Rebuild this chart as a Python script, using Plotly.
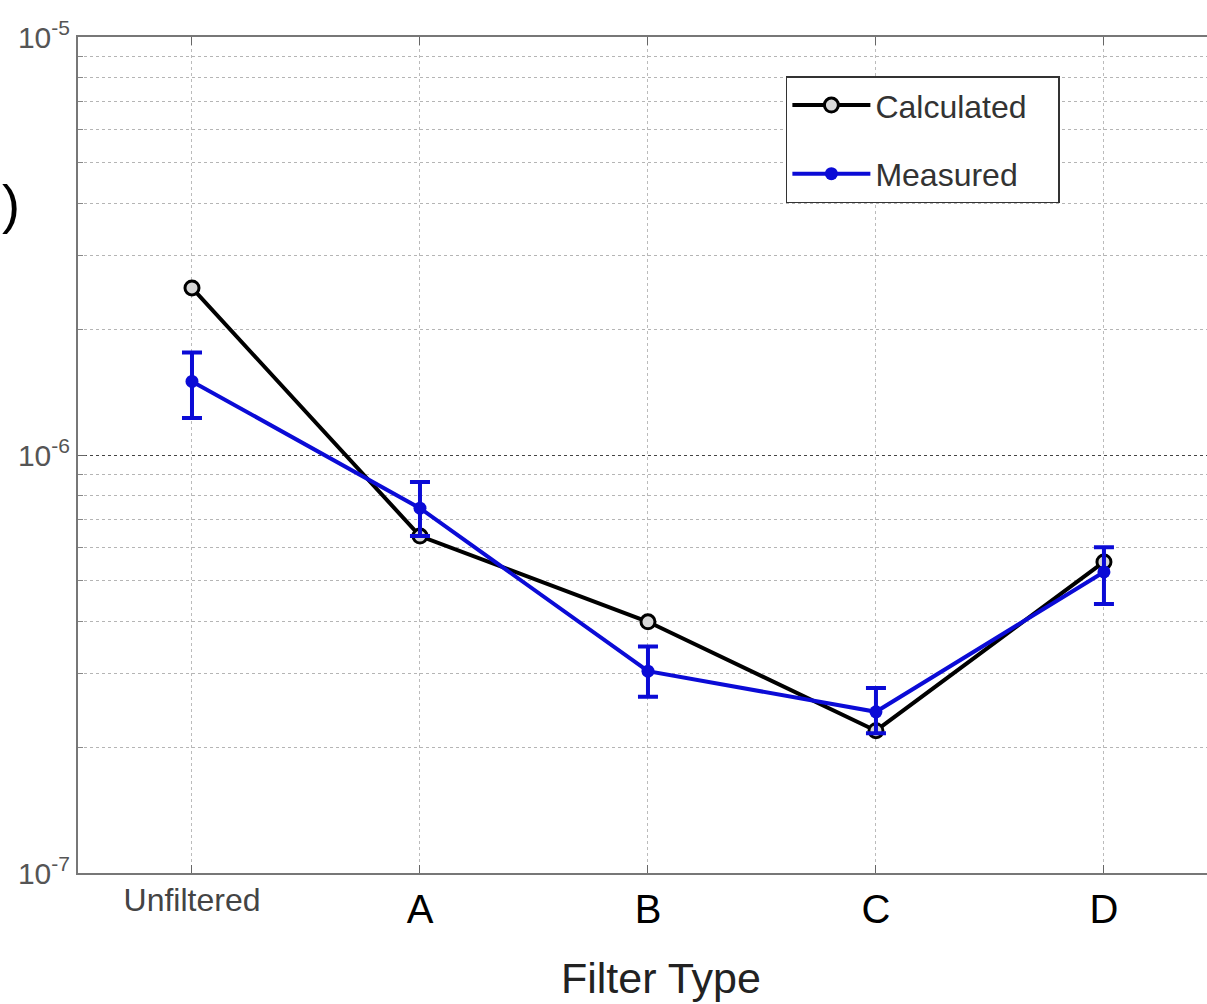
import plotly.graph_objects as go

# Filter comparison: calculated vs measured values (log scale)
categories = ["Unfiltered", "A", "B", "C", "D"]
calculated = [2.51e-6, 6.4e-7, 3.99e-7, 2.19e-7, 5.55e-7]
measured = [1.50e-6, 7.46e-7, 3.04e-7, 2.43e-7, 5.25e-7]
measured_high = [1.76e-6, 8.62e-7, 3.48e-7, 2.77e-7, 6.02e-7]
measured_low = [1.226e-6, 6.4e-7, 2.64e-7, 2.16e-7, 4.40e-7]

y_major = [1e-7, 1e-6, 1e-5]
y_major_text = ["10<sup>-7</sup>", "10<sup>-6</sup>", "10<sup>-5</sup>"]
y_minor = [k * 10.0 ** e for e in (-7, -6) for k in range(2, 10)]

x_ticktext = [
    '<span style="font-size:32px;fill:#444;baseline-shift:12px">Unfiltered</span>',
    "A", "B", "C", "D",
]

err_plus = [h - v for h, v in zip(measured_high, measured)]
err_minus = [v - l for v, l in zip(measured, measured_low)]

BLUE = "#0b0bd6"
PAD = "\u00a0\u00a0\u00a0"  # right padding inside the legend box

fig = go.Figure()
fig.add_trace(go.Scatter(
    x=categories, y=calculated, name="Calculated" + PAD, mode="lines+markers",
    line=dict(color="black", width=4),
    marker=dict(symbol="circle", size=14, color="#d8d8d8",
                line=dict(color="black", width=3)),
    legendgroup="calc",
))
fig.add_trace(go.Scatter(
    x=categories, y=measured, name="Measured", mode="lines+markers",
    line=dict(color=BLUE, width=4),
    marker=dict(symbol="circle", size=13, color=BLUE),
    error_y=dict(type="data", array=err_plus, arrayminus=err_minus,
                 color=BLUE, thickness=4, width=10, symmetric=False),
    legendgroup="meas",
))

fig.add_annotation(
    text=")", xref="paper", yref="paper", x=-0.069, y=0.80,
    xanchor="left", yanchor="middle", showarrow=False,
    font=dict(size=54, color="black", family="Liberation Sans"),
)
fig.add_annotation(
    text="Filter Type", xref="paper", yref="paper", x=0.516, y=-0.1256,
    xanchor="center", yanchor="middle", showarrow=False,
    font=dict(size=43, color="#222"),
)

fig.update_layout(
    width=1207, height=1004,
    margin=dict(l=78, r=0, t=37, b=131),
    paper_bgcolor="white", plot_bgcolor="white",
    font=dict(family="Liberation Sans, Arial, sans-serif"),
    showlegend=True,
    legend=dict(
        x=0.627, y=0.953, xanchor="left", yanchor="top",
        bordercolor="#333", borderwidth=1.5, bgcolor="white",
        font=dict(size=32, color="#333"),
        tracegroupgap=24, itemwidth=78,
    ),
    xaxis=dict(
        type="category", range=[-0.5, 4.452],
        tickmode="array", tickvals=categories, ticktext=x_ticktext,
        tickfont=dict(size=40, color="black"),
        ticks="inside", ticklen=8, tickcolor="#666",
        showline=True, linecolor="#777", linewidth=2, mirror="ticks",
        showgrid=True, gridcolor="#bbb", griddash="dot", gridwidth=1,
        zeroline=False,
    ),
    yaxis=dict(
        type="log", range=[-7, -5],
        tickmode="array", tickvals=y_major, ticktext=y_major_text,
        tickfont=dict(size=30, color="#555"),
        ticks="inside", ticklen=8, tickcolor="#666",
        showline=True, linecolor="#777", linewidth=2, mirror=False,
        showgrid=True, gridcolor="#444", griddash="dot", gridwidth=1,
        zeroline=False,
        minor=dict(tickmode="array", tickvals=y_minor, ticks="inside",
                   ticklen=5, tickcolor="#888", showgrid=True,
                   gridcolor="#b5b5b5", griddash="dot", gridwidth=1),
    ),
)

fig.write_html("out.html")
